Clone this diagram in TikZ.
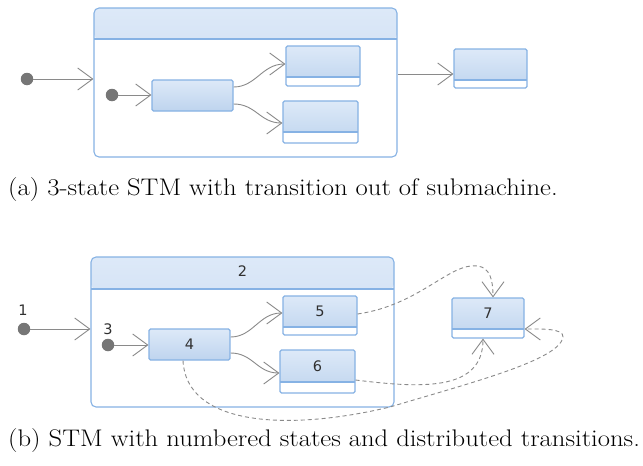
\documentclass[tikz,border=0pt]{standalone}
\usepackage{fontspec}
\newfontfamily\digfont{DejaVu Sans}
\usetikzlibrary{arrows.meta}
\definecolor{stborder}{HTML}{86B2E4}
\definecolor{sttop}{HTML}{DDE9F8}
\definecolor{stbot}{HTML}{BED4EE}
\definecolor{trgray}{HTML}{8A8A8A}
\definecolor{dotgray}{HTML}{767676}
\definecolor{digcol}{HTML}{303030}
\tikzset{
  plainstate/.style={draw=stborder, line width=1.1pt, rounded corners=1.5pt, inner sep=0pt,
    top color=sttop, bottom color=stbot},
  cstate/.style={draw=stborder, line width=1.1pt, rounded corners=1.5pt, inner sep=0pt, fill=white,
    path picture={
      \shade[top color=sttop, bottom color=stbot] (path picture bounding box.north west) rectangle ([yshift=#1]path picture bounding box.south east);
      \draw[stborder, line width=1.1pt] ([yshift=#1]path picture bounding box.south west) -- ([yshift=#1]path picture bounding box.south east);
    }},
  compbox/.style={draw=stborder, line width=1.1pt, rounded corners=5pt, inner sep=0pt, fill=white,
    path picture={
      \shade[top color=sttop, bottom color=stbot] (path picture bounding box.north west) rectangle ([yshift=-#1]path picture bounding box.north east);
      \draw[stborder, line width=1.1pt] ([yshift=-#1]path picture bounding box.north west) -- ([yshift=-#1]path picture bounding box.north east);
    }},
  initdot/.style={circle, fill=dotgray, minimum size=12.5pt, inner sep=0pt},
  dig/.style={font=\digfont\fontsize{14.5}{16}\selectfont, text=digcol, inner sep=0pt},
  trans/.style={draw=trgray, line width=0.9pt, -{Straight Barb[length=15pt, width=22pt, line width=0.9pt]}},
  dtrans/.style={trans, dash pattern=on 4pt off 3pt},
  captext/.style={anchor=base west, inner sep=0pt, font=\fontsize{24}{28}\selectfont}
}
\begin{document}
\begin{tikzpicture}[x=1pt, y=-1pt]
\useasboundingbox (0,0) rectangle (643,466);

% ---------- (a) ----------
\node[compbox=31pt, minimum width=303pt, minimum height=149pt] (SA) at (245.5,82.5) {};
\node[plainstate, minimum width=81pt, minimum height=31pt] (A) at (192.5,95.5) {};
\node[cstate=9pt, minimum width=74pt, minimum height=40pt] (B) at (323,66) {};
\node[cstate=11pt, minimum width=75pt, minimum height=42pt] (C) at (320.5,122) {};
\node[cstate=8pt, minimum width=73pt, minimum height=39pt] (D) at (490.5,68.5) {};
\node[initdot] (i1) at (27,79) {};
\node[initdot] (i2) at (112,95) {};

\draw[trans] (i1) -- (i1 -| SA.west);
\draw[trans] (i2) -- (i2 -| A.west);
\draw[trans] ([yshift=8.5pt]A.east) .. controls (256,87) and (262,64) .. ([yshift=2pt]B.west);
\draw[trans] ([yshift=-8.5pt]A.east) .. controls (256,104) and (260,123) .. ([yshift=-1pt]C.west);
\draw[trans] ([yshift=8.5pt]SA.east) -- ([yshift=8.5pt]SA.east -| D.west);

\node[captext] (capa) at (8,195) {\scalebox{1.11}[1]{(a) 3-state STM with transition out of submachine.}};

% ---------- (b) ----------
\node[compbox=32pt, minimum width=303pt, minimum height=150pt] (SB) at (242.5,332) {};
\node[dig] (t2) at ([yshift=-15pt]SB.north) {2};
\node[plainstate, minimum width=81pt, minimum height=31pt] (S4) at (189.5,344.5) {};
\node[dig] (t4) at (S4) {4};
\node[cstate=8pt, minimum width=74pt, minimum height=39pt] (S5) at (320,315.5) {};
\node[dig] (t5) at ([yshift=4pt]S5.center) {5};
\node[cstate=11pt, minimum width=75pt, minimum height=43pt] (S6) at (317.5,371.5) {};
\node[dig] (t6) at ([yshift=5.5pt]S6.center) {6};
\node[cstate=9pt, minimum width=72pt, minimum height=40pt] (S7) at (488,318) {};
\node[dig] (t7) at ([yshift=4.5pt]S7.center) {7};
\node[initdot] (d1) at (24,329) {};
\node[dig] (l1) at (23,310) {1};
\node[initdot] (d3) at (108,345) {};
\node[dig] (l3) at (108,329) {3};

\draw[trans] (d1) -- (d1 -| SB.west);
\draw[trans] (d3) -- (d3 -| S4.west);
\draw[trans] ([yshift=7.5pt]S4.east) .. controls (253,337) and (259,313) .. ([yshift=2.5pt]S5.west);
\draw[trans] ([yshift=-8.5pt]S4.east) .. controls (253,353) and (257,373) .. ([yshift=-1.5pt]S6.west);

\draw[dtrans] ([yshift=1.5pt]S5.east) .. controls (420,305) and (450,262) .. (478,266)
   .. controls (490,268) and (493,280) .. ([xshift=5pt]S7.north);
\draw[dtrans] ([yshift=-8.5pt]S6.east) .. controls (420,388) and (483,392) .. ([xshift=-5pt]S7.south);
\draw[dtrans] ([xshift=-6.5pt]S4.south) .. controls (186,425) and (285,432) .. (390,407)
   .. controls (470,383) and (560,360) .. (563,337)
   .. controls (564,328) and (540,329) .. ([yshift=-11pt]S7.east);

\node[captext] (capb) at (8,446) {\scalebox{1.11}[1]{(b) STM with numbered states and distributed transitions.}};
\end{tikzpicture}
\end{document}
